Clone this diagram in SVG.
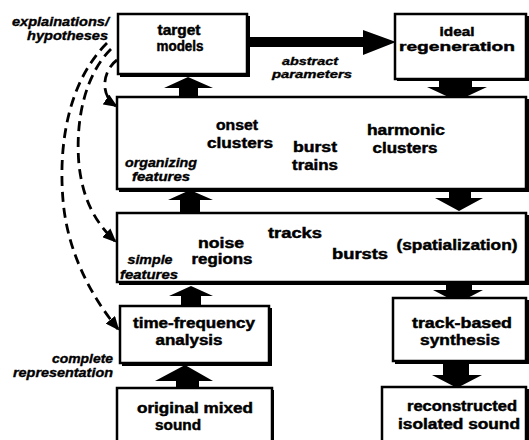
<svg xmlns="http://www.w3.org/2000/svg" width="529" height="440" viewBox="0 0 529 440">
<defs>
<style>
.box{fill:#fff;stroke:#000;stroke-width:2.5}
.sh{fill:#000}
.t{font-family:"Liberation Sans",Arial,sans-serif;font-weight:bold;font-size:14px;fill:#000;stroke:#000;stroke-width:0.45;text-anchor:middle}
.i{font-family:"Liberation Sans",Arial,sans-serif;font-weight:bold;font-style:italic;font-size:12.5px;fill:#000;stroke:#000;stroke-width:0.35}
.s{font-size:11.5px}
.r{text-anchor:end}
.m{text-anchor:middle}
.blk{fill:#000}
.dash{fill:none;stroke:#000;stroke-width:2.8;stroke-dasharray:10 6}
</style>
<marker id="ah" markerWidth="14" markerHeight="12" refX="12" refY="6" orient="auto" markerUnits="userSpaceOnUse">
<path d="M0,0 L14,6 L0,12 Z" fill="#000"/>
</marker>
</defs>
<rect width="529" height="440" fill="#fff"/>

<g id="connectors">
<path class="blk" d="M248,37 L363,37 L363,30 L396,42 L363,55 L363,47 L248,47 Z"/>
<path class="blk" d="M179,98 L179,88 L164,88 L188,77 L213,88 L198,88 L198,98 Z"/>
<path class="blk" d="M180,214 L180,200 L168,200 L190,190 L213,200 L200,200 L200,214 Z"/>
<path class="blk" d="M181,307 L181,296 L169,296 L191,286 L213,296 L201,296 L201,307 Z"/>
<path class="blk" d="M176,389 L176,381 L155,381 L185,365 L213,381 L199,381 L199,389 Z"/>
<path class="blk" d="M439,79 L439,87 L427,87 L457,101 L487,87 L472,87 L472,79 Z"/>
<path class="blk" d="M449,189 L449,198 L435,198 L459,211 L483,198 L471,198 L471,189 Z"/>
<path class="blk" d="M446,282 L446,290 L433,290 L458,303 L483,290 L472,290 L472,282 Z"/>
<path class="blk" d="M443,361 L443,375 L432,375 L457,388 L482,375 L469,375 L469,361 Z"/>
<path class="dash" marker-end="url(#ah)" d="M107,43 C70,80 58,140 63,200 C67,250 90,295 118,329"/>
<path class="dash" marker-end="url(#ah)" d="M111,49 C85,75 75,120 79,165 C83,200 95,222 115,241"/>
<path class="dash" marker-end="url(#ah)" d="M117,60 C103,70 99,95 116,106"/>
</g>

<g id="target-models">
<rect class="sh" x="120" y="16" width="130" height="61"/>
<rect class="box" x="118" y="14" width="129" height="60"/>
<text class="t" x="179" y="35" textLength="43" lengthAdjust="spacingAndGlyphs">target</text>
<text class="t" x="180" y="51" textLength="47" lengthAdjust="spacingAndGlyphs">models</text>
</g>

<g id="ideal-regeneration">
<rect class="sh" x="397" y="16" width="132" height="65"/>
<rect class="box" x="395" y="14" width="131" height="65"/>
<text class="t" x="457" y="35.5" textLength="35" lengthAdjust="spacingAndGlyphs" style="font-size:13.5px">ideal</text>
<text class="t" x="457" y="50.5" textLength="116" lengthAdjust="spacingAndGlyphs" style="font-size:13.5px">regeneration</text>
</g>

<g id="organizing-features">
<rect class="sh" x="119" y="99" width="410" height="93"/>
<rect class="box" x="117" y="97" width="409" height="92"/>
<text class="t" x="237" y="130" textLength="42" lengthAdjust="spacingAndGlyphs">onset</text>
<text class="t" x="240" y="148" textLength="66" lengthAdjust="spacingAndGlyphs">clusters</text>
<text class="t" x="315" y="152" textLength="44" lengthAdjust="spacingAndGlyphs">burst</text>
<text class="t" x="315" y="170" textLength="46" lengthAdjust="spacingAndGlyphs">trains</text>
<text class="t" x="406" y="135" textLength="78" lengthAdjust="spacingAndGlyphs">harmonic</text>
<text class="t" x="405" y="153" textLength="65" lengthAdjust="spacingAndGlyphs">clusters</text>
<text class="i m" x="161" y="167" textLength="72" lengthAdjust="spacingAndGlyphs">organizing</text>
<text class="i m" x="161" y="181" textLength="58" lengthAdjust="spacingAndGlyphs">features</text>
</g>

<g id="simple-features">
<rect class="sh" x="119" y="215" width="410" height="70"/>
<rect class="box" x="117" y="213" width="409" height="69"/>
<text class="t" x="221" y="248" textLength="46" lengthAdjust="spacingAndGlyphs">noise</text>
<text class="t" x="222" y="264" textLength="61" lengthAdjust="spacingAndGlyphs">regions</text>
<text class="t" x="295" y="238" textLength="54" lengthAdjust="spacingAndGlyphs">tracks</text>
<text class="t" x="360" y="259" textLength="56" lengthAdjust="spacingAndGlyphs">bursts</text>
<text class="t" x="457" y="250" textLength="121" lengthAdjust="spacingAndGlyphs">(spatialization)</text>
<text class="i m" x="150" y="264" textLength="45" lengthAdjust="spacingAndGlyphs">simple</text>
<text class="i m" x="149" y="279" textLength="58" lengthAdjust="spacingAndGlyphs">features</text>
</g>

<g id="time-frequency-analysis">
<rect class="sh" x="122" y="308" width="150" height="58"/>
<rect class="box" x="120" y="306" width="149" height="57"/>
<text class="t" x="194" y="328" textLength="122" lengthAdjust="spacingAndGlyphs">time-frequency</text>
<text class="t" x="189" y="345" textLength="67" lengthAdjust="spacingAndGlyphs">analysis</text>
</g>

<g id="original-mixed-sound">
<rect class="sh" x="119" y="390" width="155" height="60"/>
<rect class="box" x="117" y="388" width="155" height="60"/>
<text class="t" x="195" y="413" textLength="116" lengthAdjust="spacingAndGlyphs">original mixed</text>
<text class="t" x="178" y="430" textLength="46" lengthAdjust="spacingAndGlyphs">sound</text>
</g>

<g id="track-based-synthesis">
<rect class="sh" x="395" y="300" width="134" height="64"/>
<rect class="box" x="393" y="298" width="133" height="63"/>
<text class="t" x="462" y="328" textLength="100" lengthAdjust="spacingAndGlyphs">track-based</text>
<text class="t" x="460" y="345" textLength="80" lengthAdjust="spacingAndGlyphs">synthesis</text>
</g>

<g id="reconstructed-isolated-sound">
<rect class="sh" x="384" y="389" width="145" height="60"/>
<rect class="box" x="382" y="387" width="144" height="60"/>
<text class="t" x="462" y="411" textLength="110" lengthAdjust="spacingAndGlyphs">reconstructed</text>
<text class="t" x="459" y="429" textLength="122" lengthAdjust="spacingAndGlyphs">isolated sound</text>
</g>

<g id="labels">
<text class="i r" x="109" y="26" textLength="97" lengthAdjust="spacingAndGlyphs">explainations/</text>
<text class="i r" x="108" y="40" textLength="81" lengthAdjust="spacingAndGlyphs">hypotheses</text>
<text class="i m s" x="310" y="65" textLength="56" lengthAdjust="spacingAndGlyphs">abstract</text>
<text class="i m s" x="312" y="78" textLength="80" lengthAdjust="spacingAndGlyphs">parameters</text>
<text class="i r" x="113" y="363" textLength="61" lengthAdjust="spacingAndGlyphs">complete</text>
<text class="i r" x="113" y="377" textLength="100" lengthAdjust="spacingAndGlyphs">representation</text>
</g>
</svg>
